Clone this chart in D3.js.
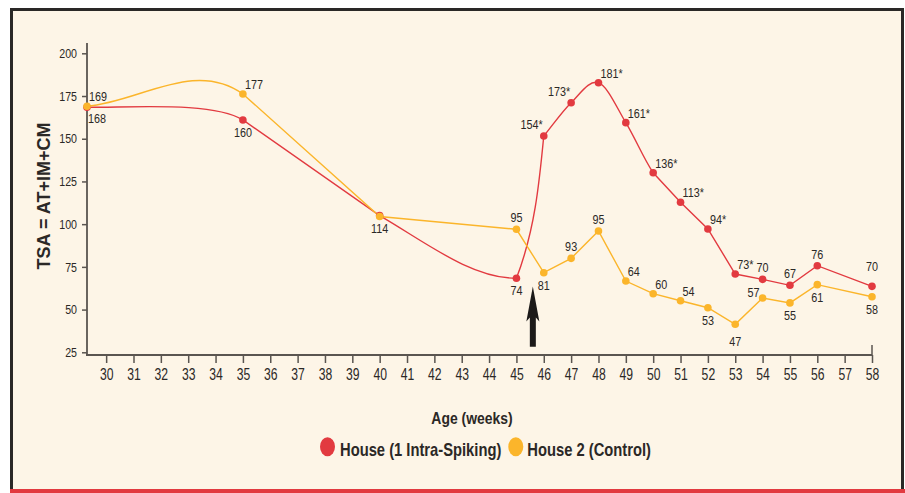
<!DOCTYPE html>
<html><head><meta charset="utf-8">
<script src="https://cdn.jsdelivr.net/npm/d3@7"></script>
<style>
html,body{margin:0;padding:0;background:#fff;}
svg{display:block;}
text{font-family:"Liberation Sans",Arial,Helvetica,sans-serif;}
</style></head><body>
<svg id="chart" width="905" height="493"></svg>
<script>
// ---------- data ----------
const ages = [29.3, 35, 40, 45, 46, 47, 48, 49, 50, 51, 52, 53, 54, 55, 56, 58];
const house1 = [168.4, 161, 105, 68.3, 151.6, 171.1, 182.8, 159.4, 130.1, 112.8, 97.2, 70.8, 67.7, 64.2, 75.7, 63.6];
const house1Labels = ["168","160","114","74","154*","173*","181*","161*","136*","113*","94*","73*","70","67","76","70"];
const house2 = [169, 176.2, 104.5, 97, 71.6, 80, 96, 66.7, 59.3, 55.2, 51.1, 41.4, 56.8, 53.9, 64.6, 57.5];
const house2Labels = ["169","177",null,"95","81","93","95","64","60","54","53","47","57","55","61","58"];
const yTicks = [25, 50, 75, 100, 125, 150, 175, 200];
const xTicks = d3.range(30, 59);
const seriesNames = ["House (1 Intra-Spiking)", "House 2 (Control)"];
const arrowAge = 45.6, arrowFrom = 28.3, arrowTo = 63.5;

// ---------- style config ----------
const RED = "#e23a40", YEL = "#fbb52b", INK = "#2b2826", AXIS = "#5a5550";
const NARROW = 0.82;
const house1Place = ["br","b","b","b","tl","tl","tr","tr","tr","tr","tr","tr","t","t","t","tt"];
const house2Place = ["tr","tr",null,"t","b","t","t","tr","tr","tr","b","bb","l","b","b","b"];
const placeMap = {
  t:["middle",0,-7], tt:["middle",0,-15], b:["middle",0,17], bb:["middle",0,22],
  tr:["start",2,-5], tl:["end",-1,-7], br:["start",1,16], l:["end",-3,-1]
};
const house1Curve = {seg:["C","L","C","C","C","C","C","C","L","L","L","L","L","L","L"],
  ov:{0:{out:"flat"},1:{inK:[0.6,1]},3:{in:"flat",out:"chord",outK:[2,1]},4:{in:"chord",inK:[0.5,1],out:"chord"}}};
const house2Curve = {seg:["C","L","L","L","L","L","L","L","L","L","L","L","L","L","L"],
  ov:{1:{inK:[1,1.9]}}};

const svg = d3.select("#chart");
svg.append("rect").attr("x",11.5).attr("y",9.5).attr("width",891).attr("height",481)
  .attr("fill","#fdf5e7").attr("stroke","#2a2826").attr("stroke-width",3);
svg.append("rect").attr("x",10).attr("y",489).attr("width",895).attr("height",4).attr("fill",RED);

const x = d3.scaleLinear().domain([29.3, 58]).range([87, 872]);
const y = d3.scaleLinear().domain([25, 200]).range([352.3, 53.3]);
const axisY = 355;

// y axis
const gy = svg.append("g").attr("transform","translate(87,0)")
  .call(d3.axisLeft(y).tickValues(yTicks).tickSize(5).tickPadding(5));
gy.select(".domain").remove();
gy.selectAll(".tick line").attr("stroke",AXIS).attr("stroke-width",1.5);
gy.selectAll(".tick text").attr("font-family",null).attr("font-size",13).attr("fill",INK)
  .attr("x",-10/NARROW).attr("transform",`scale(${NARROW},1)`);
svg.append("line").attr("x1",87).attr("x2",87).attr("y1",43).attr("y2",axisY+1)
  .attr("stroke",AXIS).attr("stroke-width",1.8);

// x axis
const gx = svg.append("g").attr("transform",`translate(0,${axisY})`)
  .call(d3.axisBottom(x).tickValues(xTicks).tickSize(8).tickPadding(6));
gx.select(".domain").remove();
gx.selectAll(".tick line").attr("stroke",AXIS).attr("stroke-width",1.5);
gx.selectAll(".tick text").attr("font-family",null).attr("font-size",16).attr("fill",INK)
  .attr("transform","scale(0.76,1)");
svg.append("line").attr("x1",86).attr("x2",x(58)).attr("y1",axisY).attr("y2",axisY)
  .attr("stroke",AXIS).attr("stroke-width",1.8);
svg.append("line").attr("x1",x(58)).attr("x2",x(58)).attr("y1",axisY-10).attr("y2",axisY)
  .attr("stroke",AXIS).attr("stroke-width",1.5);

// axis titles
svg.append("text").attr("font-weight","bold").attr("font-size",18)
  .attr("fill",INK).attr("text-anchor","middle")
  .attr("transform","translate(50,196) rotate(-90)").text("TSA = AT+IM+CM");
svg.append("text").attr("font-weight","bold").attr("font-size",17)
  .attr("fill",INK).attr("text-anchor","middle")
  .attr("transform",`translate(472,424) scale(${NARROW},1)`).text("Age (weeks)");

// curve builder
function buildPath(vals, cfg){
  const P = ages.map((a,i)=>[x(a), y(vals[i])]);
  const n = P.length;
  const cr = j => j===0 ? [P[1][0]-P[0][0],P[1][1]-P[0][1]]
    : j===n-1 ? [P[n-1][0]-P[n-2][0],P[n-1][1]-P[n-2][1]]
    : [(P[j+1][0]-P[j-1][0])/2,(P[j+1][1]-P[j-1][1])/2];
  function tan(j, dir){
    const o = cfg.ov[j] || {};
    const mode = o[dir];
    let m;
    if (mode==="chord") m = dir==="out" ? [P[j+1][0]-P[j][0],P[j+1][1]-P[j][1]] : [P[j][0]-P[j-1][0],P[j][1]-P[j-1][1]];
    else if (mode==="flat") m = dir==="out" ? [P[j+1][0]-P[j][0],0] : [P[j][0]-P[j-1][0],0];
    else m = cr(j);
    const k = o[dir+"K"] || [1,1];
    return [m[0]*k[0], m[1]*k[1]];
  }
  const p = d3.path();
  p.moveTo(P[0][0],P[0][1]);
  for (let i=0;i<n-1;i++){
    if (cfg.seg[i]==="C"){
      const m0 = tan(i,"out"), m1 = tan(i+1,"in");
      p.bezierCurveTo(P[i][0]+m0[0]/3,P[i][1]+m0[1]/3,P[i+1][0]-m1[0]/3,P[i+1][1]-m1[1]/3,P[i+1][0],P[i+1][1]);
    } else p.lineTo(P[i+1][0],P[i+1][1]);
  }
  return p.toString();
}

const series = [
  {vals:house1, labels:house1Labels, place:house1Place, color:RED, curve:house1Curve},
  {vals:house2, labels:house2Labels, place:house2Place, color:YEL, curve:house2Curve}
];
series.forEach(s=>{
  svg.append("path").attr("d",buildPath(s.vals,s.curve)).attr("fill","none")
    .attr("stroke",s.color).attr("stroke-width",1.4);
});
series.forEach(s=>{
  svg.append("g").selectAll("circle").data(s.vals).join("circle")
    .attr("cx",(d,i)=>x(ages[i])).attr("cy",d=>y(d)).attr("r",3.8).attr("fill",s.color);
});
series.forEach(s=>{
  svg.append("g").selectAll("text").data(s.labels.map((t,i)=>({t,i})).filter(d=>d.t))
    .join("text").attr("font-size",13.5).attr("fill",INK)
    .attr("text-anchor",d=>placeMap[s.place[d.i]][0])
    .attr("transform",d=>`translate(${x(ages[d.i])+placeMap[s.place[d.i]][1]},${y(s.vals[d.i])+placeMap[s.place[d.i]][2]}) scale(0.8,1)`)
    .text(d=>d.t);
});

// arrow
const ax = x(arrowAge), tipY = y(arrowTo), baseY = y(arrowFrom);
svg.append("path").attr("fill","#1c1a19")
  .attr("d",`M${ax},${tipY} L${ax+6.5},${tipY+35} L${ax+3},${tipY+31} L${ax+3},${baseY} L${ax-3},${baseY} L${ax-3},${tipY+31} L${ax-6.5},${tipY+35} Z`);

// legend
const lg = svg.append("g");
[[327.5,340],[515.8,527.3]].forEach((pos,i)=>{
  lg.append("ellipse").attr("cx",pos[0]).attr("cy",446.7).attr("rx",7.5).attr("ry",9.5)
    .attr("fill",[RED,YEL][i]);
  lg.append("text").attr("font-weight","bold").attr("font-size",18)
    .attr("fill",INK).attr("transform",`translate(${pos[1]},456) scale(${NARROW},1)`).text(seriesNames[i]);
});
</script>
</body></html>
